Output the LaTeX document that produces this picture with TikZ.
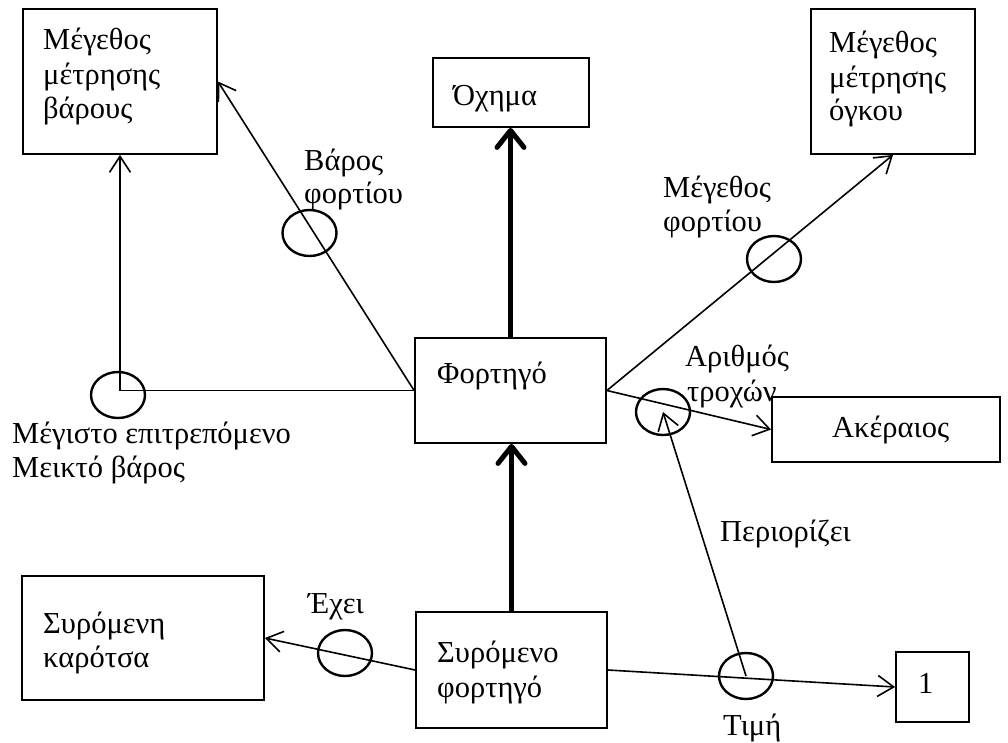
\documentclass[tikz,border=0pt]{standalone}
\usepackage{fontspec}
\setmainfont{Liberation Serif}
\usetikzlibrary{arrows.meta,shapes.geometric}
\begin{document}
\begin{tikzpicture}[x=1pt,y=-1pt,
  box/.style={draw,line width=1.8pt,rectangle,inner sep=0pt},
  word/.style={anchor=base west,inner sep=0pt,font=\fontsize{30.5}{34}\selectfont},
  role/.style={draw,line width=2.4pt,ellipse,inner sep=0pt,minimum width=54pt,minimum height=46pt},
  thin/.style={line width=1.6pt,-{Straight Barb[length=16pt,width=21pt]}},
  plain/.style={line width=1.6pt},
  isa/.style={line width=5pt,-{Straight Barb[length=17pt,width=27pt,round]}}]
\useasboundingbox (0,0) rectangle (1008,742);

% entity boxes
\node[box,minimum width=194pt,minimum height=145pt] (weight) at (120,81.5) {};
\node[box,minimum width=164pt,minimum height=145pt] (volume) at (893,81.5) {};
\node[box,minimum width=156pt,minimum height=69pt] (vehicle) at (511,92.5) {};
\node[box,minimum width=191pt,minimum height=105pt] (truck) at (510.5,390.5) {};
\node[box,minimum width=228pt,minimum height=65pt] (integer) at (886,429.5) {};
\node[box,minimum width=242pt,minimum height=124pt] (cart) at (143,638) {};
\node[box,minimum width=191pt,minimum height=116pt] (trailer) at (511.5,670) {};
\node[box,minimum width=73pt,minimum height=70pt] (one) at (932.5,687) {};

% box texts
\node[word] (weight1) at (43,49) {Μέγεθος};
\node[word] (weight2) at (43,84) {μέτρησης};
\node[word] (weight3) at (43,118) {βάρους};
\node[word] (volume1) at (829,52) {Μέγεθος};
\node[word] (volume2) at (829,87) {μέτρησης};
\node[word] (volume3) at (829,120) {όγκου};
\node[word] (vehicle1) at (453,105) {Όχημα};
\node[word] (truck1) at (437,383) {Φορτηγό};
\node[word] (integer1) at (832,437) {Ακέραιος};
\node[word] (cart1) at (43,633) {Συρόμενη};
\node[word] (cart2) at (43,667) {καρότσα};
\node[word] (trailer1) at (437,662) {Συρόμενο};
\node[word] (trailer2) at (437,697) {φορτηγό};
\node[word] (one1) at (918,693) {1};

% role circles
\node[role] (maxw) at (118,395) {};
\node[role] (loadw) at (309.5,233) {};
\node[role] (loadv) at (774,259) {};
\node[role] (wheels) at (663,412) {};
\node[role] (has) at (345,653) {};
\node[role] (value) at (746,676) {};

% role labels
\node[word] (loadw1) at (304,170) {Βάρος};
\node[word] (loadw2) at (304,203) {φορτίου};
\node[word] (loadv1) at (663,197) {Μέγεθος};
\node[word] (loadv2) at (663,231) {φορτίου};
\node[word] (wheels1) at (685,366) {Αριθμός};
\node[word] (wheels2) at (687,401) {τροχών};
\node[word] (maxw1) at (12,443) {Μέγιστο επιτρεπόμενο};
\node[word] (maxw2) at (12,477) {Μεικτό βάρος};
\node[word] (has1) at (308,613) {Έχει};
\node[word] (limits1) at (720,541) {Περιορίζει};
\node[word] (value1) at (723,735) {Τιμή};

% facts
\coordinate (corner) at (weight.south |- truck.west);
\draw[plain] (truck.west) -- (corner);
\draw[thin] (corner) -- (weight.south);
\draw[thin] (truck.west) -- (weight.east);
\draw[thin] (truck.east) -- (volume.south);
\draw[thin] (truck.east) -- (integer.west);
\draw[thin] (trailer.west) -- (cart.east);
\draw[thin] (trailer.east) -- (one.west);
\draw[thin] (value.center) -- (wheels.center);

% subtype links
\draw[isa] (truck.north) -- (truck.north |- vehicle.south);
\draw[isa] (trailer.north) -- (trailer.north |- truck.south);
\end{tikzpicture}
\end{document}
